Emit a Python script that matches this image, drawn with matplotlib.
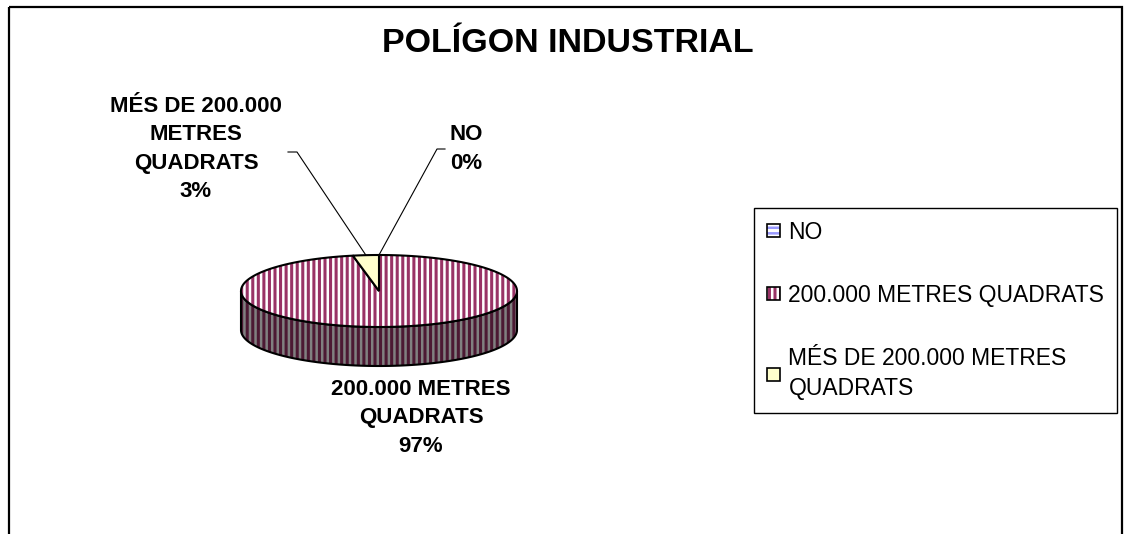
import matplotlib.pyplot as plt
import numpy as np
from matplotlib.patches import Polygon, Patch, Rectangle
from matplotlib.legend_handler import HandlerTuple

plt.rcParams['font.family'] = ['Liberation Sans', 'DejaVu Sans']
plt.rcParams['hatch.linewidth'] = 2.2

title = 'POLÍGON INDUSTRIAL'
categories = ['NO', '200.000 METRES QUADRATS', 'MÉS DE 200.000 METRES QUADRATS']
legend_labels = ['NO', '200.000 METRES QUADRATS', 'MÉS DE 200.000 METRES\nQUADRATS']
values = [0, 32, 1]
pct_labels = ['0%', '97%', '3%']
data_labels = ['NO\n0%', '200.000 METRES\nQUADRATS\n97%', 'MÉS DE 200.000\nMETRES\nQUADRATS\n3%']

top_fc = ['#9999FF', 'white', '#FFFFCC']
top_hc = ['white', '#993366', '#FFFFCC']
top_hatch = ['---', '|||', None]
side_fc = ['#4C4C80', '#808080', '#808066']
side_hc = ['#808080', '#4C1933', '#808066']

# pie geometry in pixel coords
cx, cy, rx, ry, depth = 379, 291, 138, 36, 39

fig = plt.figure(figsize=(11.24, 5.34), dpi=100)
ax = fig.add_axes([0, 0, 1, 1])
ax.set_xlim(0, 1124)
ax.set_ylim(534, 0)
ax.axis('off')


def arc(a, b, dy=0, n=200):
    t = np.radians(np.linspace(a, b, n))
    return np.column_stack([cx + rx * np.cos(t), cy - ry * np.sin(t) + dy])


total = sum(values)
cum = np.concatenate([[0], np.cumsum(values)])
starts = 90 - 360 * cum[:-1] / total
ends = 90 - 360 * cum[1:] / total

# side walls (front half only)
for i in range(len(values)):
    if values[i] == 0:
        continue
    for k in (-1, 0, 1):
        lo = max(ends[i], -180 + 360 * k)
        hi = min(starts[i], 360 * k)
        if hi > lo:
            pts = np.vstack([arc(lo, hi), arc(hi, lo, depth)])
            ax.add_patch(Polygon(pts, closed=True, facecolor=side_fc[i],
                                 edgecolor=side_hc[i], hatch='|||', lw=0))
            ax.add_patch(Polygon(pts, closed=True, fill=False,
                                 edgecolor='black', lw=1.5))

# top faces
for i in range(len(values)):
    if values[i] == 0:
        continue
    pts = np.vstack([[cx, cy], arc(ends[i], starts[i])])
    ax.add_patch(Polygon(pts, closed=True, facecolor=top_fc[i],
                         edgecolor=top_hc[i], hatch=top_hatch[i], lw=0))
    ax.add_patch(Polygon(pts, closed=True, fill=False,
                         edgecolor='black', lw=1.5))

# data labels with leader lines
label_pos = [(466, 149), (421, 418), (196, 149)]
leaders = [[(445, 149), (437, 149)], None, [(288, 152), (297, 152)]]
for i in range(len(values)):
    x, y = label_pos[i]
    ax.text(x, y, data_labels[i], ha='center', va='center', fontsize=16,
            fontweight='bold', linespacing=1.45)
    if leaders[i] is not None:
        mid = np.radians((starts[i] + ends[i]) / 2)
        px, py = cx + rx * np.cos(mid), cy - ry * np.sin(mid)
        (x0, y0), (x1, y1) = leaders[i]
        ax.plot([x0, x1, px], [y0, y1, py], color='black', lw=0.8)

ax.text(568, 43, title, ha='center', va='center', fontsize=24.5, fontweight='bold')

# chart border
ax.add_patch(Rectangle((9, 7), 1113, 600, fill=False, edgecolor='black', lw=1.6))

handles = []
for i in range(len(values)):
    h1 = Patch(facecolor=top_fc[i], edgecolor=top_hc[i], hatch=top_hatch[i], lw=0)
    h2 = Patch(fill=False, edgecolor='black', lw=1.2)
    handles.append((h1, h2))

leg = fig.legend(handles, legend_labels, handler_map={tuple: HandlerTuple(ndivide=1)},
                 loc='upper left', bbox_to_anchor=(754 / 1124, 1 - 208 / 534),
                 borderaxespad=0, fontsize=16.5, frameon=True, fancybox=False,
                 handlelength=0.6, handleheight=0.5, handletextpad=0.35,
                 labelspacing=1.75, borderpad=0.55, edgecolor='black')
for t in leg.get_texts():
    t.set_linespacing(1.4)
leg.get_frame().set_linewidth(1.0)
leg.get_frame().set_alpha(1)

fig.savefig('out.png', dpi=100)
